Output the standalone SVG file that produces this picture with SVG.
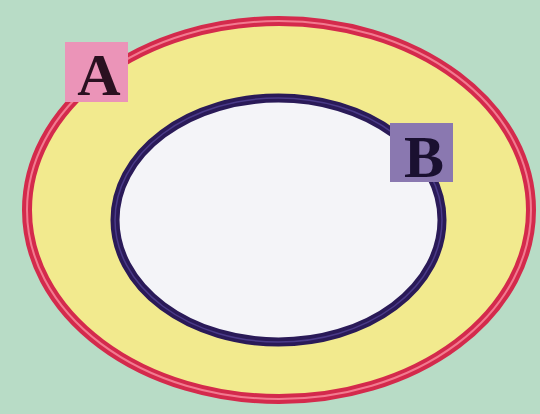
<svg xmlns="http://www.w3.org/2000/svg" width="540" height="414" viewBox="0 0 540 414">
  <style>
    .lbl { font-family: "Liberation Serif", "Times New Roman", serif; font-weight: bold; font-size: 60px; text-anchor: middle; }
  </style>
  <rect x="0" y="0" width="540" height="414" fill="#b8dcc6"/>
  <g id="setA">
    <ellipse cx="279" cy="210" rx="252" ry="189" fill="#f2ea8e" stroke="#d42a4c" stroke-width="10"/>
    <ellipse cx="279" cy="210" rx="252" ry="189" fill="none" stroke="#f27a90" stroke-width="2"/>
  </g>
  <g id="setB">
    <ellipse cx="278.5" cy="220" rx="163.5" ry="122" fill="#f4f4f8" stroke="#2a1a58" stroke-width="9"/>
    <ellipse cx="278.5" cy="220" rx="163.5" ry="122" fill="none" stroke="#4a3a88" stroke-width="1.5"/>
  </g>
  <g id="labelA">
    <rect x="65" y="42" width="63" height="60" fill="#eb94b8"/>
    <text class="lbl" x="99" y="95" fill="#2a1020">A</text>
  </g>
  <g id="labelB">
    <rect x="390" y="123" width="63" height="59" fill="#8a78b0"/>
    <text class="lbl" x="424" y="177" fill="#1a1030">B</text>
  </g>
</svg>
